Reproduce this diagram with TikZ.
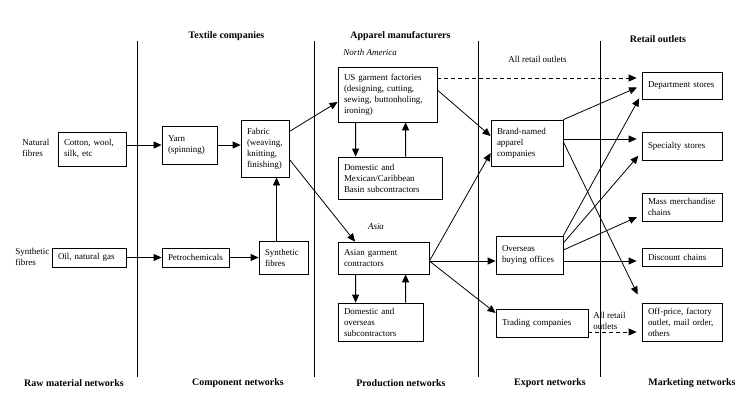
\documentclass[tikz,border=0pt]{standalone}
\usepackage{fontspec}
\setmainfont{Liberation Serif}
\usetikzlibrary{arrows.meta}

\tikzset{
  box/.style={draw, rectangle, inner xsep=6bp, inner ysep=0pt, align=left,
    font=\fontsize{9}{11}\selectfont},
  lbl/.style={inner sep=0pt, align=left, font=\fontsize{9}{11}\selectfont},
  head/.style={inner sep=0pt, font=\fontsize{10}{12}\selectfont\bfseries},
  retail/.style={->, shorten >=5bp},
}

\begin{document}
\begin{tikzpicture}[x=1bp,y=-1bp]
        \useasboundingbox (0,0) rectangle (748,412);
        \begin{scope}[>={Triangle[length=8bp,width=7bp]}, line width=0.8bp]

          % column dividers
          \draw (137,41) -- (137,377);
          \draw (314,41) -- (314,377);
          \draw (478,41) -- (478,377);
          \draw (600,41) -- (600,377);

          % headings
          \node (htextile) at (226.5,36) [head]{Textile companies};
          \node (happarel) at (400.5,36) [head]{Apparel manufacturers};
          \node (hretail) at (658,39) [head]{Retail outlets};
          \node (namerica) at (343,52) [lbl, anchor=west]{\itshape North America};
          \node (hasia) at (376,227) [lbl]{\itshape Asia};
          \node (allretail) at (537.5,59) [lbl]{All retail outlets};

          % raw materials
          \node (natural) at (22,147.5) [lbl, anchor=west]{Natural\\fibres};
          \node (synthetic) at (15,257) [lbl, anchor=west]{Synthetic\\fibres};
          \node (cotton) at (92,149) [box, minimum width=68bp, minimum height=34bp, text width=56bp]{Cotton, wool,\\silk, etc};
          \node (oil) at (89,257.5) [box, minimum width=74bp, minimum height=19bp, text width=62bp]{Oil, natural gas};

          % components
          \node (yarn) at (189.5,145) [box, minimum width=55bp, minimum height=38bp, text width=43bp]{Yarn\\(spinning)};
          \node (fabric) at (265,148.5) [box, minimum width=48bp, minimum height=57bp, text width=36bp]{Fabric\\(weaving,\\knitting,\\finishing)};
          \node (petro) at (195.5,257.5) [box, minimum width=67bp, minimum height=19bp, text width=55bp]{Petrochemicals};
          \node (synth) at (283.5,257.5) [box, minimum width=49bp, minimum height=33bp, text width=37bp]{Synthetic\\fibres};

          % production
          \node (usf) at (387.5,94.5) [box, minimum width=99bp, minimum height=55bp, text width=87bp]{US garment factories\\(designing, cutting,\\sewing, buttonholing,\\ironing)};
          \node (dommex) at (390,178) [box, minimum width=104bp, minimum height=42bp, text width=92bp]{Domestic and\\Mexican/Caribbean\\Basin subcontractors};
          \node (asian) at (383.5,258) [box, minimum width=91bp, minimum height=32bp, text width=79bp]{Asian garment\\contractors};
          \node (domov) at (380.5,322) [box, minimum width=85bp, minimum height=38bp, text width=73bp]{Domestic and\\overseas\\subcontractors};

          % export
          \node (brand) at (527,143) [box, minimum width=72bp, minimum height=46bp, text width=60bp]{Brand-named\\apparel\\companies};
          \node (overseas) at (529.5,255) [box, minimum width=67bp, minimum height=38bp, text width=55bp]{Overseas\\buying offices};
          \node (trading) at (542,323) [box, minimum width=92bp, minimum height=28bp, text width=80bp]{Trading companies};
          \node (allretail2) at (593,321) [lbl, anchor=west]{All retail\\outlets};

          % marketing
          \node (dept) at (682,85.5) [box, minimum width=80bp, minimum height=27bp, text width=68bp]{Department stores};
          \node (spec) at (682,146) [box, minimum width=80bp, minimum height=28bp, text width=68bp]{Specialty stores};
          \node (mass) at (682,207) [box, minimum width=80bp, minimum height=28bp, text width=68bp]{Mass merchandise\\chains};
          \node (disc) at (682,257) [box, minimum width=80bp, minimum height=18bp, text width=68bp]{Discount chains};
          \node (offp) at (682,322) [box, minimum width=80bp, minimum height=38bp, text width=68bp]{Off-price, factory\\outlet, mail order,\\others};

          % bottom labels
          \node (nraw) at (74,383) [head]{Raw material networks};
          \node (ncomp) at (238,383) [head]{Component networks};
          \node (nprod) at (401,383) [head]{Production networks};
          \node (nexport) at (550,383) [head]{Export networks};
          \node (nmarket) at (692,383) [head]{Marketing networks};

          % end points off the centre lines
          \coordinate (deptdash) at ([yshift=7.5bp]dept.west);
          \coordinate (deptlow) at ([yshift=-8.5bp]dept.west);
          \coordinate (specin) at ([yshift=7bp]spec.west);
          \coordinate (speclow) at ([yshift=-6bp]spec.west);
          \coordinate (massin) at ([yshift=-8bp]mass.west);
          \coordinate (discin) at ([yshift=-4bp]disc.west);
          \coordinate (offpdash) at ([yshift=-10bp]offp.west);
          \coordinate (asianout) at ([yshift=-3bp]asian.east);

          \draw[->] (yarn.west -| cotton.east) -- (yarn.west);
          \draw[->] (yarn.east) -- (fabric.west |- yarn.east);
          \draw[->] (oil) -- (petro);
          \draw[->] (petro) -- (synth);
          \draw[->] ([xshift=-7bp]synth.north) -- ([xshift=-7bp]synth.north |- fabric.south);

          \draw[->] (fabric.35) -- ([yshift=-7.5bp]usf.west);
          \draw[->] (fabric.-24) -- (asian.150);

          \draw[->] ([xshift=18bp]usf.south west) -- ([xshift=18bp]dommex.north west);
          \draw[->] ([xshift=68bp]dommex.north west) -- ([xshift=68bp]usf.south west);
          \draw[->] ([xshift=18bp]asian.south west) -- ([xshift=18bp]domov.north west);
          \draw[->] ([xshift=68bp]domov.north west) -- ([xshift=68bp]asian.south west);

          \draw[->] ([yshift=4.5bp]usf.east) -- ([yshift=7bp]brand.west);
          \draw[->] (asianout) -- ([yshift=-10bp]brand.west);
          \draw[->] (asianout) -- (overseas.west |- asianout);
          \draw[->] (asianout) -- ([yshift=10bp]trading.west);
          \draw[retail, dash pattern=on 4bp off 3bp] (usf.east |- deptdash) -- (deptdash);

          \draw[retail] (brand.north east) -- (dept.west);
          \draw[retail] (brand.east |- specin) -- (specin);
          \draw[->, shorten >=9bp] ([yshift=1bp]brand.east) -- (offp.north west);

          \draw[retail] (overseas.north east) -- (deptlow);
          \draw[retail] ([yshift=12bp]overseas.east) -- (speclow);
          \draw[retail] ([yshift=5bp]overseas.east) -- (massin);
          \draw[retail] (overseas.east |- discin) -- (discin);

          \draw[retail, dash pattern=on 4bp off 3bp] (trading.east |- offpdash) -- (offpdash);

        \end{scope}
        \end{tikzpicture}
\end{document}
